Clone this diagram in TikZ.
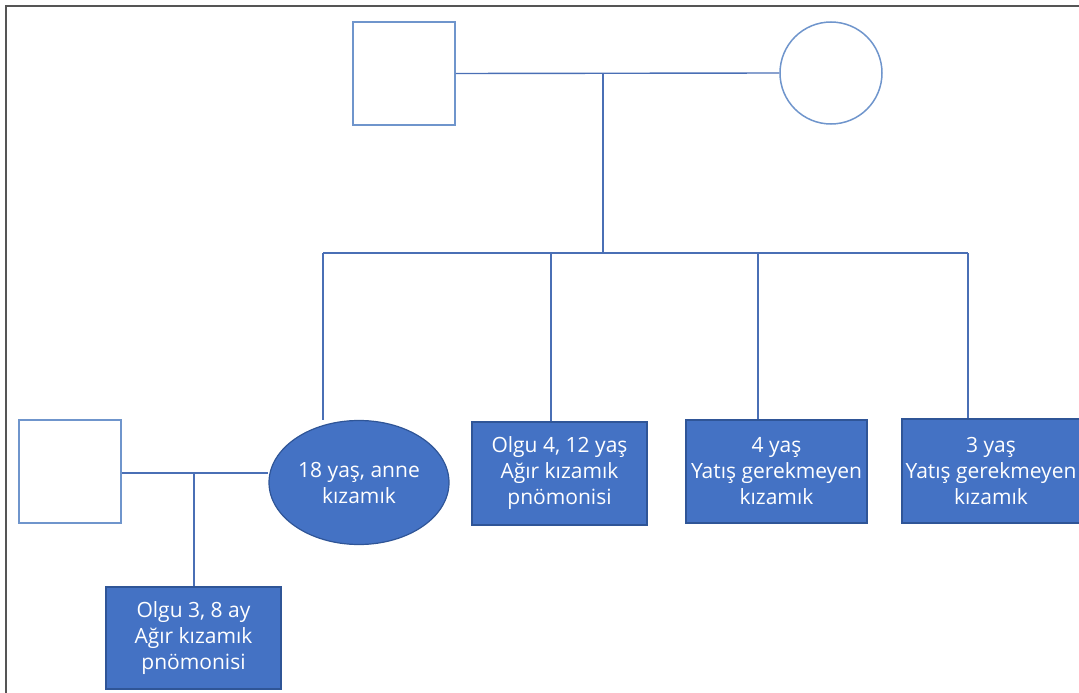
\documentclass[tikz,border=0pt]{standalone}
\usepackage{fontspec}
\setmainfont{Open Sans}
\usetikzlibrary{shapes.geometric}
\definecolor{fillblue}{HTML}{4472C4}
\definecolor{edgeblue}{HTML}{2F5597}
\definecolor{lineblue}{HTML}{4A6FB5}
\definecolor{openblue}{HTML}{6F95CC}
\definecolor{frame}{HTML}{555555}
\begin{document}
\begin{tikzpicture}[x=1pt,y=-1pt,
  conn/.style={draw=lineblue,line width=1.4pt},
  openshape/.style={draw=openblue,line width=1.5pt,fill=white,inner sep=0pt},
  casebox/.style={draw=edgeblue,line width=1.2pt,fill=fillblue,text=white,
    inner sep=0pt,align=center,font=\fontsize{21}{26}\selectfont},
]
\useasboundingbox (0,0) rectangle (1079,693);
\draw[frame,line width=2pt] (6,693) -- (6,6) -- (1079,6);
% parents
\node[openshape,rectangle,minimum width=102pt,minimum height=103pt] (father) at (404,73.5) {};
\node[openshape,circle,minimum size=102pt] (mother) at (831,73) {};
% generation II
\node[casebox,ellipse,minimum width=180pt,minimum height=124pt] (mom) at (359,482.5) {18 yaş, anne\\kızamık};
\node[openshape,rectangle,minimum width=102pt,minimum height=103pt] (spouse) at (70,471.5) {};
\node[casebox,rectangle,minimum width=175pt,minimum height=103pt] (olgu4) at (559.5,473.5) {Olgu 4, 12 yaş\\Ağır kızamık\\pnömonisi};
\node[casebox,rectangle,minimum width=181pt,minimum height=103pt] (y4) at (776.5,471.5) {4 yaş\\Yatış gerekmeyen\\kızamık};
\node[casebox,rectangle,minimum width=178pt,minimum height=104pt] (y3) at (991,471) {3 yaş\\Yatış gerekmeyen\\kızamık};
% generation III
\node[casebox,rectangle,minimum width=175pt,minimum height=102pt] (olgu3) at (193.5,638) {Olgu 3, 8 ay\\Ağır kızamık\\pnömonisi};
% junction coordinates
\coordinate (mar1) at (603,73);
\coordinate (sib) at (603,253);
\coordinate (d1) at (323,253);
\coordinate (d2) at (551,253);
\coordinate (d3) at (758,253);
\coordinate (d4) at (968,253);
\coordinate (mar2) at (194,473);
% connectors
\draw[conn] (father.east) -- (mother.west);
\draw[conn] (mar1) -- (sib);
\draw[conn] (d1) -- (d4);
\draw[conn] (d1) -- (d1 |- mom.north);
\draw[conn] (d2) -- (d2 |- olgu4.north);
\draw[conn] (d3) -- (d3 |- y4.north);
\draw[conn] (d4) -- (d4 |- y3.north);
\draw[conn] (spouse.east |- mar2) -- (mar2) -- (mar2 -| mom.west);
\draw[conn] (mar2) -- (mar2 |- olgu3.north);
\end{tikzpicture}
\end{document}
